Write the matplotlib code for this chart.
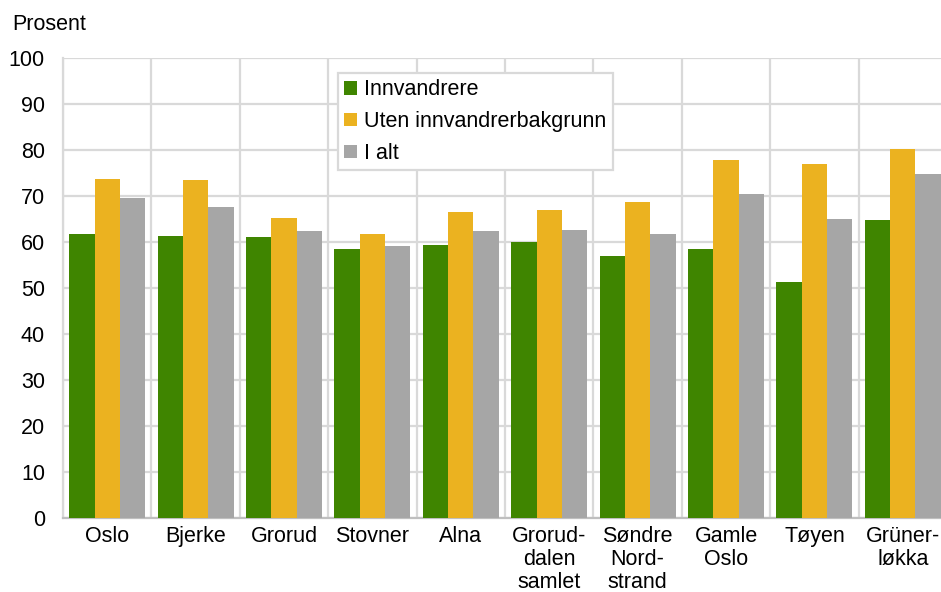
import numpy as np
import matplotlib.pyplot as plt

plt.rcParams['font.family'] = ['Liberation Sans', 'DejaVu Sans']

categories = ["Oslo", "Bjerke", "Grorud", "Stovner", "Alna", "Grorud-\ndalen\nsamlet",
              "Søndre\nNord-\nstrand", "Gamle\nOslo", "Tøyen", "Grüner-\nløkka"]
innvandrere = [61.7, 61.4, 61.0, 58.5, 59.3, 59.9, 57.0, 58.5, 51.4, 64.7]
uten_bakgrunn = [73.7, 73.5, 65.3, 61.8, 66.6, 66.9, 68.8, 77.9, 77.0, 80.3]
i_alt = [69.6, 67.7, 62.3, 59.1, 62.3, 62.7, 61.8, 70.5, 64.9, 74.8]

series = [("Innvandrere", innvandrere, "#3f8500"),
          ("Uten innvandrerbakgrunn", uten_bakgrunn, "#ebb220"),
          ("I alt", i_alt, "#a6a6a6")]

fs = 15.5
fig = plt.figure(figsize=(9.41, 5.92), dpi=100)
ax = fig.add_axes([63 / 941, 1 - 518 / 592, 884 / 941, 460 / 592])

x = np.arange(len(categories))
w = 0.287
for i, (name, vals, col) in enumerate(series):
    ax.bar(x + (i - 1) * w, vals, w, color=col, label=name, zorder=3)

ax.set_xlim(-0.5, len(categories) - 0.5)
ax.set_ylim(0, 100)
ax.set_yticks(range(0, 101, 10))
ax.set_xticks(x)
ax.set_xticklabels(categories, fontsize=fs, linespacing=1.12)
ax.set_xticks(np.arange(-0.5, len(categories), 1), minor=True)
ax.tick_params(axis='both', which='both', length=0, labelsize=fs, colors='black')
ax.tick_params(axis='y', pad=13)
ax.tick_params(axis='x', pad=6)

ax.grid(True, which='major', axis='y', color='#d9d9d9', lw=1.6, zorder=0)
ax.grid(True, which='minor', axis='x', color='#d9d9d9', lw=1.6, zorder=0)
for s in ['top', 'right']:
    ax.spines[s].set_visible(False)
ax.spines['left'].set_color('#d9d9d9')
ax.spines['left'].set_linewidth(1.6)
ax.spines['bottom'].set_color('#bfbfbf')
ax.spines['bottom'].set_linewidth(1.6)

leg = ax.legend(loc='upper left', bbox_to_anchor=(275 / 884, 1 - 15 / 460),
                fontsize=fs, frameon=True, fancybox=False,
                handlelength=0.6, handleheight=0.6, handletextpad=0.3,
                labelspacing=0.5, borderpad=0.3, borderaxespad=0)
leg.get_frame().set_edgecolor('#d9d9d9')
leg.get_frame().set_linewidth(1.6)
leg.get_frame().set_alpha(1)

fig.text(12 / 941, 1 - 24 / 592, "Prosent", fontsize=fs, va='center', ha='left')

fig.savefig("out.png", dpi=100)
